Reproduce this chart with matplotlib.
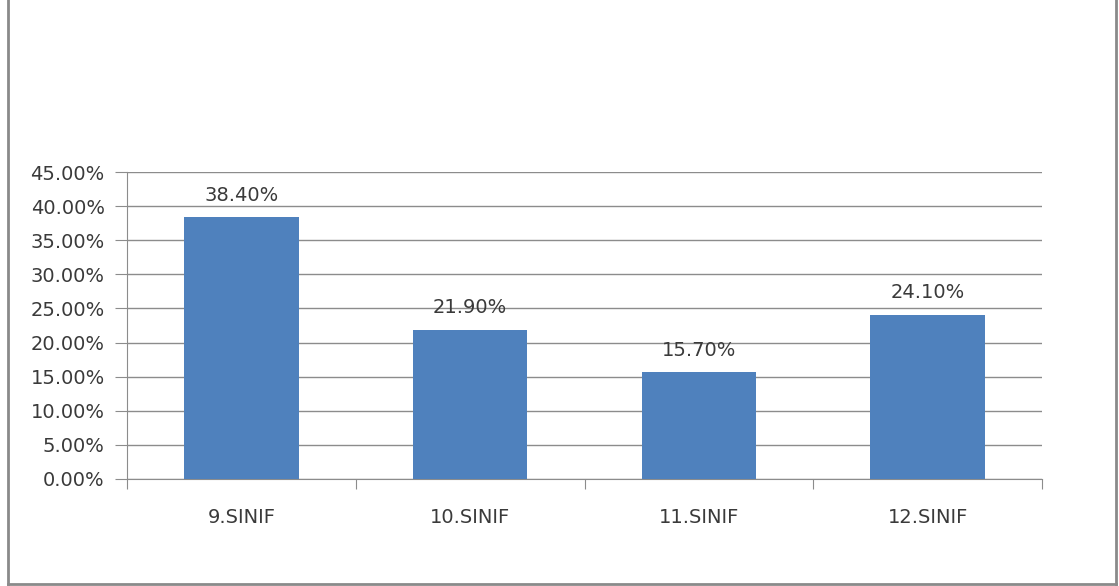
import matplotlib
matplotlib.use('Agg')
import matplotlib.pyplot as plt
from matplotlib.lines import Line2D
from matplotlib.ticker import FuncFormatter

# Chart data
categories = ['9.SINIF', '10.SINIF', '11.SINIF', '12.SINIF']
values = [38.40, 21.90, 15.70, 24.10]
y_ticks = [0, 5, 10, 15, 20, 25, 30, 35, 40, 45]

plt.rcParams['font.family'] = ['DejaVu Sans']

W, H = 1119, 586
fig = plt.figure(figsize=(W / 100, H / 100), dpi=100)
ax = fig.add_axes([127 / W, 1 - 479 / H, (1042 - 127) / W, (479 - 172) / H])

text_color = '#3a3a3a'
grid_color = '#8c8c8c'
fs = 14

x = range(len(categories))
ax.bar(x, values, width=0.5, color='#4f81bd', zorder=3)

# value labels above the bars
for i, v in enumerate(values):
    ax.text(i, v + 1.8, '{:.2f}%'.format(v), ha='center', va='bottom',
            fontsize=fs, color=text_color)

ax.set_xlim(-0.5, len(categories) - 0.5)
ax.set_ylim(0, 45)
ax.set_yticks(y_ticks)
ax.yaxis.set_major_formatter(FuncFormatter(lambda v, p: '{:.2f}%'.format(v)))
ax.yaxis.grid(True, color=grid_color, linewidth=1, zorder=0)

# category ticks between groups, labels centered
ax.set_xticks([i - 0.5 for i in range(len(categories) + 1)])
ax.set_xticklabels([])
ax.set_xticks(list(x), minor=True)
ax.set_xticklabels(categories, minor=True)
ax.tick_params(axis='x', which='minor', length=0, pad=21, labelsize=fs,
               labelcolor=text_color)
ax.tick_params(axis='x', which='major', length=7, color=grid_color, direction='out')
ax.tick_params(axis='y', length=9, color=grid_color, pad=7, labelsize=fs,
               labelcolor=text_color)

for s in ['top', 'right']:
    ax.spines[s].set_visible(False)
ax.spines['left'].set_color(grid_color)
ax.spines['bottom'].set_color(grid_color)

# outer frame of the chart area (no top edge)
bc = '#8a8a8a'
fig.add_artist(Line2D([8 / W, 8 / W], [1 - 584 / H, 1], color=bc, lw=2))
fig.add_artist(Line2D([1116 / W, 1116 / W], [1 - 584 / H, 1], color=bc, lw=2))
fig.add_artist(Line2D([8 / W, 1116 / W], [1 - 584 / H, 1 - 584 / H], color=bc, lw=2))

fig.savefig('out.png', dpi=100)
